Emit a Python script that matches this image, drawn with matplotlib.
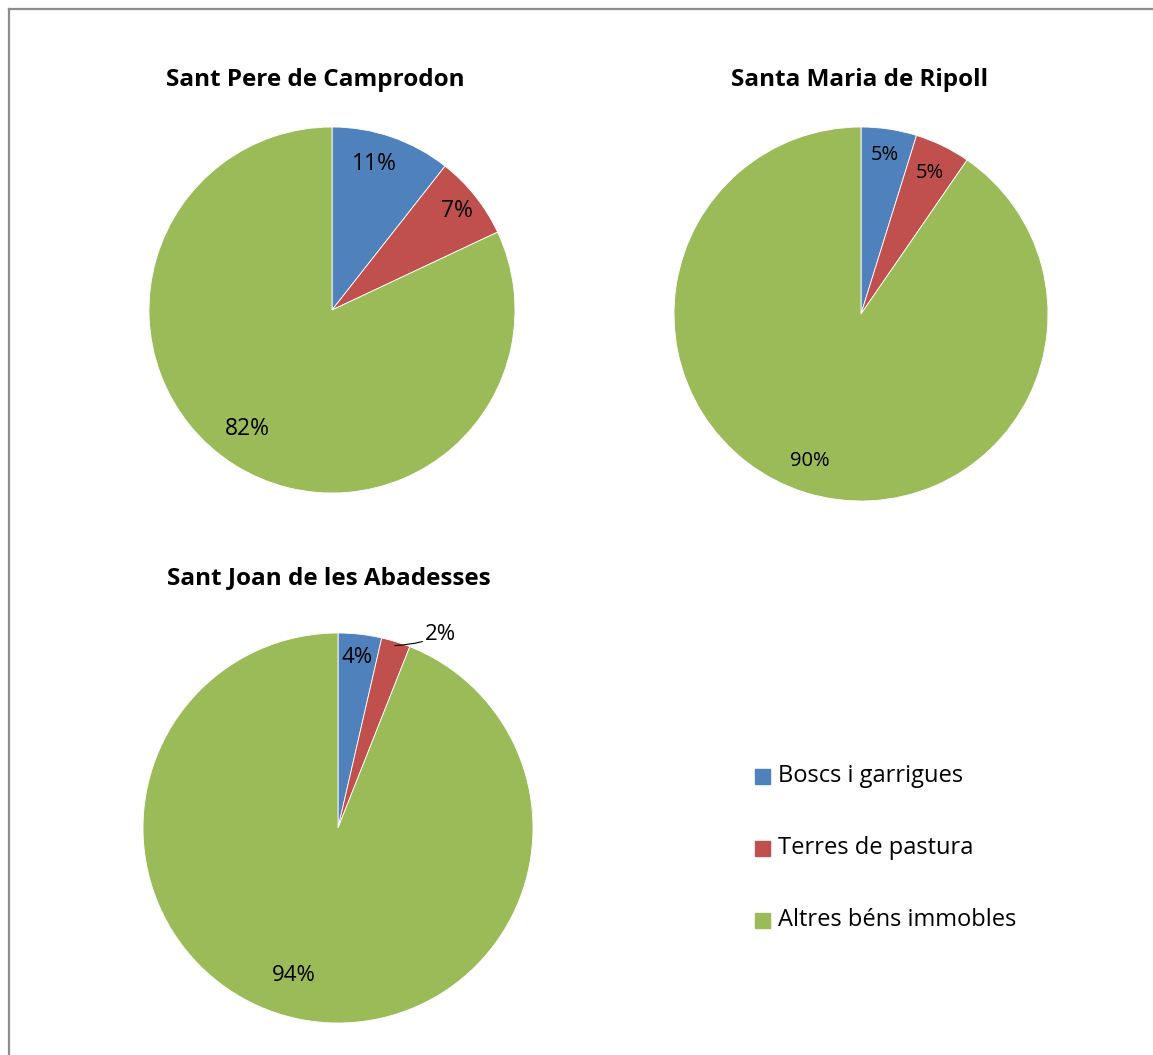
import numpy as np
import matplotlib
matplotlib.use("Agg")
import matplotlib.pyplot as plt
from matplotlib.lines import Line2D

plt.rcParams["font.family"] = ["Open Sans", "DejaVu Sans"]

W, H = 1153, 1055
DPI = 100

categories = ["Boscs i garrigues", "Terres de pastura", "Altres béns immobles"]
colors = ["#4F81BD", "#C0504D", "#9BBB59"]

titles = ["Sant Pere de Camprodon", "Santa Maria de Ripoll", "Sant Joan de les Abadesses"]
camprodon = [10.6, 7.4, 82.0]
ripoll = [4.8, 4.8, 90.4]
abadesses = [3.6, 2.4, 94.0]
labels_camprodon = ["11%", "7%", "82%"]
labels_ripoll = ["5%", "5%", "90%"]
labels_abadesses = ["4%", "2%", "94%"]

fig = plt.figure(figsize=(W / DPI, H / DPI), dpi=DPI)


def px_axes(cx, cy, r):
    return fig.add_axes([(cx - r) / W, 1 - (cy + r) / H, 2 * r / W, 2 * r / H])


def draw_pie(ax, values, labels, spots, fsize):
    wedges, _ = ax.pie(values, colors=colors, startangle=90, counterclock=False,
                       radius=1, wedgeprops=dict(edgecolor="white", linewidth=0.6))
    for w, lab, s in zip(wedges, labels, spots):
        if s is None:
            continue
        d, shift = s
        ang = np.deg2rad((w.theta1 + w.theta2) / 2 + shift)
        ax.text(d * np.cos(ang), d * np.sin(ang), lab, ha="center", va="center",
                fontsize=fsize, color="black")
    ax.set_xlim(-1, 1)
    ax.set_ylim(-1, 1)
    ax.set_aspect("equal")
    ax.axis("off")
    return wedges


ax1 = px_axes(332, 310, 183)
draw_pie(ax1, camprodon, labels_camprodon, [(0.83, 3), (0.87, 0), (0.80, -3)], 16.5)

ax2 = px_axes(861, 314, 187)
draw_pie(ax2, ripoll, labels_ripoll, [(0.86, 0), (0.84, 0), (0.83, -2)], 14.5)

ax3 = px_axes(338, 828, 195)
w3 = draw_pie(ax3, abadesses, labels_abadesses, [(0.88, 0), None, (0.79, -6)], 16)
red = w3[1]
ang = np.deg2rad((red.theta1 + red.theta2) / 2)
ax3.annotate(labels_abadesses[1], xy=(0.98 * np.cos(ang), 0.98 * np.sin(ang)),
             xytext=(np.cos(ang) + 0.15, np.sin(ang) + 0.035), fontsize=16,
             ha="left", va="center",
             arrowprops=dict(arrowstyle="-", color="black", lw=0.8,
                             connectionstyle="arc3,rad=-0.1", shrinkA=0, shrinkB=0))

title_pos = [(315, 80), (860, 80), (329, 578)]
for t, (x, y) in zip(titles, title_pos):
    fig.text(x / W, 1 - y / H, t, ha="center", va="center", fontsize=17.5,
             fontweight="bold")

# legend
leg_y = [776, 848, 920]
for cat, col, y in zip(categories, colors, leg_y):
    fig.patches.append(plt.Rectangle((755 / W, 1 - (y + 8) / H), 15 / W, 15 / H,
                                     transform=fig.transFigure, color=col))
    fig.text(778 / W, 1 - y / H, cat, ha="left", va="center", fontsize=17)

# frame
fig.add_artist(Line2D([8.5 / W, 8.5 / W], [0, 1 - 9 / H], color="#8c8c8c", lw=1.6))
fig.add_artist(Line2D([8.5 / W, 1], [1 - 9 / H, 1 - 9 / H], color="#8c8c8c", lw=1.6))

fig.savefig("out.png", dpi=DPI)
